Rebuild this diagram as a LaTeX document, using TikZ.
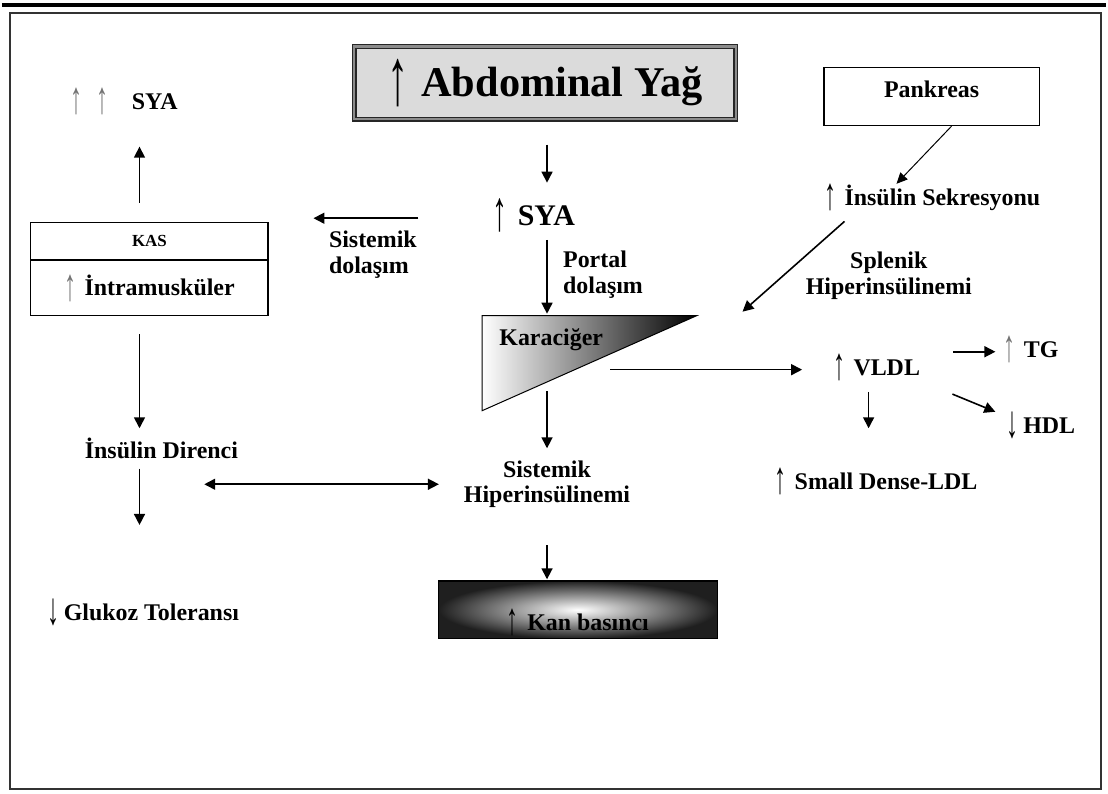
\documentclass[tikz,border=0pt]{standalone}
\usepackage{graphicx}
\usepackage{fontspec}
\setmainfont{Liberation Serif}
\usetikzlibrary{arrows.meta,positioning}

\newcommand{\yazi}{\fontsize{24}{26}\selectfont\bfseries}
\newcommand{\okglif}[1]{{\mdseries\raisebox{-0.17em}{\scalebox{1}[1.9]{#1}}}}
\newcommand{\yukari}{\okglif{↑}\hspace{0.35em}}
\newcommand{\griyukari}{{\color{black!55}\okglif{↑}}\hspace{0.35em}}
\newcommand{\asagi}{\okglif{↓}\hspace{0.2em}}

\tikzset{
  etiket/.style={font=\yazi, inner sep=0pt, text height=17pt, text depth=5pt},
  etiket2/.style={font=\yazi, inner sep=0pt, align=center},
  kutu/.style={draw, line width=1.2pt, inner sep=0pt},
  ok/.style={line width=1.6pt, -{Triangle[length=11pt,width=11pt]}},
  okcift/.style={line width=1.6pt, {Triangle[length=11pt,width=11pt]}-{Triangle[length=11pt,width=11pt]}},
  inceok/.style={line width=1pt, -{Triangle[length=11pt,width=10pt]}},
}

\begin{document}
\begin{tikzpicture}[x=1pt, y=-1pt]
  \fill[white] (0,0) rectangle (1108,796);
  \draw[line width=4pt] (0,5) -- (1108,5);
  \draw[line width=2pt, black!80] (8,13) rectangle (1103,792);

  \coordinate (solkol) at (138,0);
  \coordinate (orta) at (547,0);

  % ust kutu
  \node[draw=black!85, line width=1.3pt, double=black!45, double distance=2.4pt,
        fill=black!14, minimum width=383pt, minimum height=73pt,
        font=\fontsize{42.5}{44}\selectfont\bfseries] (abdyag) at (545,83) {\okglif{↑}\hspace{0.3em}Abdominal Yağ};

  % sol taraf
  \node[etiket, anchor=west] (sya2) at (69,104) {\griyukari\hspace{0.2em}\griyukari\hspace{0.65em}SYA};
  \node[kutu, minimum width=238pt, minimum height=38pt, font=\fontsize{17}{18}\selectfont\bfseries] (kas) at (148,242) {KAS};
  \node[kutu, minimum width=238pt, minimum height=56pt, below=-1.2pt of kas, font=\yazi] (intra) {\griyukari İntramusküler};
  \node[etiket] (direnc) at (160,454) {İnsülin Direnci};
  \node[etiket, anchor=west] (glukoz) at (45,617) {\asagi Glukoz Toleransı};

  % orta
  \node[etiket, anchor=west, font=\fontsize{30}{32}\selectfont\bfseries, text height=21pt, text depth=6pt] (syac) at (492,219) {\yukari SYA};
  \node[etiket2, anchor=west, align=left] (sisdol) at (328,256) {Sistemik\\dolaşım};
  \node[etiket2, anchor=west, align=left] (portal) at (563,276) {Portal\\dolaşım};
  \node[minimum width=215pt, minimum height=95pt, inner sep=0pt] (liver) at (589.5,364.5) {};
  \shade[left color=white, right color=black] (liver.north west) -- (liver.north east) -- (liver.south west) -- cycle;
  \draw[line width=1pt] (liver.north west) -- (liver.north east) -- (liver.south west) -- cycle;
  \node[etiket, anchor=west] (karac) at (499,341) {Karaciğer};
  \node[etiket2] (hyper) at (547,486) {Sistemik\\Hiperinsülinemi};
  \node[kutu, minimum width=280pt, minimum height=58pt, inner color=white, outer color=black!88,
        font=\yazi, text height=42pt, text depth=0pt] (kan) at (578,612) {\yukari Kan basıncı};

  % sag taraf
  \node[kutu, minimum width=216pt, minimum height=58pt, font=\yazi, text depth=14pt] (pankreas) at (933,97) {Pankreas};
  \node[etiket, anchor=west] (sekr) at (825,200) {\yukari İnsülin Sekresyonu};
  \node[etiket2] (splen) at (890,277) {Splenik\\Hiperinsülinemi};
  \node[etiket, anchor=west] (vldl) at (834,371) {\yukari VLDL};
  \node[etiket, anchor=west] (tg) at (1005,353) {\griyukari TG};
  \node[etiket, anchor=west] (hdl) at (1008,429) {\asagi HDL};
  \node[etiket, anchor=west] (sdldl) at (775,485) {\yukari Small Dense-LDL};

  % oklar
  \draw[ok, shorten <=25pt, shorten >=22pt] (abdyag.south -| orta) -- (syac.north -| orta);
  \draw[ok, shorten <=74pt, shorten >=45pt] (syac.west) -- (syac.west -| kas.east);
  \draw[ok, shorten <=8pt, shorten >=2pt] (syac.south -| orta) -- (liver.north -| orta);
  \draw[ok, shorten <=19pt, shorten >=32pt] (kas.north -| solkol) -- (sya2.south -| solkol);
  \draw[ok, shorten <=18pt, shorten >=13pt] (intra.south -| solkol) -- (direnc.north -| solkol);
  \draw[ok, shorten <=5pt, shorten >=79pt] (direnc.south -| solkol) -- (glukoz.north -| solkol);
  \draw[okcift, shorten <=65pt, shorten >=25pt] (hyper.west -| solkol) -- (hyper.west);
  \draw[ok, shorten <=28pt, shorten >=12pt] (liver.center -| orta) -- (hyper.north -| orta);
  \draw[ok, shorten <=37pt, shorten >=1pt] (hyper.south -| orta) -- (kan.north -| orta);
  \draw[ok, shorten <=21pt, shorten >=31pt] (vldl.west -| liver.center) -- (vldl.west);
  \draw[inceok, shorten >=6pt] ([xshift=20pt]pankreas.south) -- ([xshift=-40pt]sekr.north);
  \draw[ok] ([xshift=-88pt,yshift=-11pt]sekr.south) -- ([xshift=46pt,yshift=4pt]liver.north east);
  \draw[ok, shorten <=33pt, shorten >=8pt] (tg.west -| vldl.east) -- (tg.west);
  \draw[ok, shorten <=35pt, shorten >=12pt] (vldl.south east) -- (hdl.north west);
  \draw[ok, shorten <=11pt, shorten >=44pt] ([xshift=-8pt]vldl.south) -- ([xshift=-8pt]vldl.south |- sdldl.north);
\end{tikzpicture}
\end{document}
